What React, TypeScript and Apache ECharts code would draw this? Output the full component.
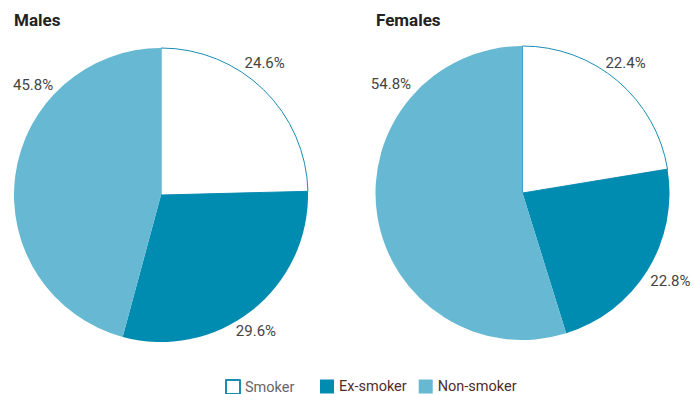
import React, { useEffect, useRef } from "react";
import * as echarts from "echarts";

const categories = ["Smoker", "Ex-smoker", "Non-smoker"];
const malesValues = [24.6, 29.6, 45.8];
const femalesValues = [22.4, 22.8, 54.8];
const titles = ["Males", "Females"];

const colors = ["#ffffff", "#008bb0", "#66b8d3"];
const legendTextColors = ["#666666", "#4f2d2d", "#4f2d2d"];

// label placement (degrees clockwise from 12 o'clock, distance from centre)
const labelPlacement = [
  [
    [38.1, 168],
    [145.1, 166],
    [310.8, 169],
  ],
  [
    [38.5, 165.5],
    [120.7, 172],
    [309.7, 171],
  ],
];
const centers = [
  [161, 195],
  [522.5, 193],
];
const RADIUS = 147;

function buildData(values: number[]) {
  return values.map((v, i) => ({
    name: categories[i],
    value: v,
    itemStyle:
      i === 0
        ? { color: colors[i], borderColor: "#1b8db3", borderWidth: 1 }
        : { color: colors[i], borderWidth: 0 },
  }));
}

export default function App() {
  const ref = useRef<HTMLDivElement>(null);
  useEffect(() => {
    document.body.style.margin = "0";
    const chart = echarts.init(ref.current!, undefined, { renderer: "svg" });
    const labelCommon = {
      show: true,
      position: "outside" as const,
      formatter: (p: any) => p.value.toFixed(1) + "%",
      fontFamily: "Roboto",
      fontSize: 15,
      color: "#444444",
    };
    const layoutFor = (s: number) => (params: any) => {
      const [ang, dist] = labelPlacement[s][params.dataIndex];
      const rad = (ang * Math.PI) / 180;
      return {
        x: centers[s][0] + Math.sin(rad) * dist,
        y: centers[s][1] - Math.cos(rad) * dist,
        align: "center",
        verticalAlign: "middle",
      };
    };
    const legendCommon = {
      top: 374,
      icon: "rect",
      itemWidth: 14,
      itemHeight: 14,
      itemGap: 12,
      textStyle: { fontFamily: "Roboto", fontSize: 14.5 },
    };
    chart.setOption({
      animation: false,
      backgroundColor: "#ffffff",
      title: [
        {
          text: titles[0],
          left: 9,
          top: 6,
          textStyle: { fontFamily: "Roboto", fontWeight: "bold", fontSize: 17, color: "#222" },
        },
        {
          text: titles[1],
          left: 371,
          top: 6,
          textStyle: { fontFamily: "Roboto", fontWeight: "bold", fontSize: 17, color: "#222" },
        },
      ],
      legend: [
        {
          ...legendCommon,
          left: 220,
          data: [{ name: categories[0], textStyle: { color: legendTextColors[0] } }],
        },
        {
          ...legendCommon,
          left: 315,
          data: categories.slice(1).map((c, i) => ({
            name: c,
            textStyle: { color: legendTextColors[i + 1] },
          })),
        },
      ],
      series: [0, 1].map((s) => ({
        type: "pie",
        name: titles[s],
        center: centers[s],
        radius: RADIUS,
        startAngle: 90,
        clockwise: true,
        avoidLabelOverlap: false,
        label: labelCommon,
        labelLine: { show: false },
        labelLayout: layoutFor(s),
        emphasis: { disabled: true },
        data: buildData(s === 0 ? malesValues : femalesValues),
      })),
    });
    return () => chart.dispose();
  }, []);
  return <div ref={ref} style={{ width: 694, height: 394 }} />;
}
